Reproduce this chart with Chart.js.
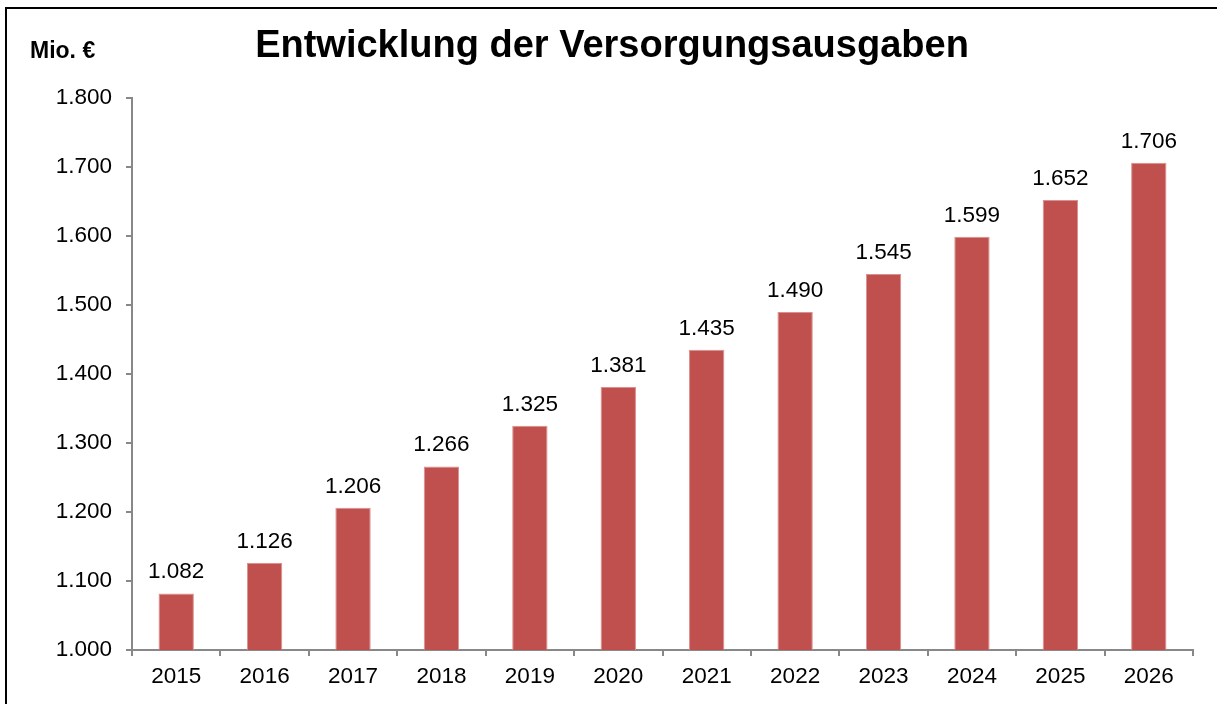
<!DOCTYPE html>
<html>
<head>
<meta charset="utf-8">
<script src="https://cdn.jsdelivr.net/npm/chart.js@4"></script>
<style>
html,body{margin:0;padding:0;background:#fff;}
canvas{display:block;}
</style>
</head>
<body>
<canvas id="c" width="1217" height="704"></canvas>
<script>
const categories = ['2015','2016','2017','2018','2019','2020','2021','2022','2023','2024','2025','2026'];
const values = [1082,1126,1206,1266,1325,1381,1435,1490,1545,1599,1652,1706];
const yTicks = {min:1000, max:1800, step:100};
const titleText = 'Entwicklung der Versorgungsausgaben';
const unitText = 'Mio. €';

const FONT = '"Liberation Sans", Arial, sans-serif';
function fmt(v){
  const s = String(Math.round(v));
  return s.replace(/\B(?=(\d{3})+(?!\d))/g, '.');
}

const decor = {
  id:'decor',
  afterDraw(chart){
    const ctx = chart.ctx;
    ctx.save();
    // frame lines (top and left)
    ctx.strokeStyle = '#000';
    ctx.lineWidth = 2;
    ctx.beginPath();
    ctx.moveTo(6, 704); ctx.lineTo(6, 8); ctx.lineTo(1217, 8);
    ctx.stroke();
    // title
    ctx.fillStyle = '#000';
    ctx.textAlign = 'center';
    ctx.textBaseline = 'alphabetic';
    ctx.font = 'bold 38px ' + FONT;
    ctx.fillText(titleText, 612, 57);
    // unit
    ctx.textAlign = 'left';
    ctx.font = 'bold 23px ' + FONT;
    ctx.fillText(unitText, 30, 58);
    // data labels
    ctx.textAlign = 'center';
    ctx.font = '22.5px ' + FONT;
    const meta = chart.getDatasetMeta(0);
    meta.data.forEach((bar, i) => {
      ctx.fillText(fmt(chart.data.datasets[0].data[i]), bar.x, bar.y - 15);
    });
    ctx.restore();
  }
};

new Chart(document.getElementById('c'), {
  type:'bar',
  data:{
    labels:categories,
    datasets:[{
      data:values,
      backgroundColor:'#C0504D',
      borderColor:'#D9908E',
      borderWidth:1,
      barPercentage:0.8,
      categoryPercentage:0.5
    }]
  },
  options:{
    responsive:false,
    animation:false,
    devicePixelRatio:1,
    layout:{padding:{left:0,right:24,top:98,bottom:0}},
    plugins:{legend:{display:false},title:{display:false},tooltip:{enabled:false}},
    scales:{
      x:{
        grid:{display:true,drawOnChartArea:false,drawTicks:true,tickLength:6,color:'#888',lineWidth:2,offset:true},
        border:{display:true,color:'#888',width:2},
        ticks:{color:'#000',font:{family:FONT,size:22.5},padding:7,maxRotation:0},
        afterFit(s){ s.height = 54; }
      },
      y:{
        min:yTicks.min,max:yTicks.max,
        grid:{display:true,drawOnChartArea:false,drawTicks:true,tickLength:6,color:'#888',lineWidth:2},
        border:{display:true,color:'#888',width:2},
        ticks:{stepSize:yTicks.step,color:'#000',font:{family:FONT,size:22.5},padding:14,callback:v=>fmt(v)},
        afterFit(s){ s.width = 132; }
      }
    }
  },
  plugins:[decor]
});
</script>
</body>
</html>
